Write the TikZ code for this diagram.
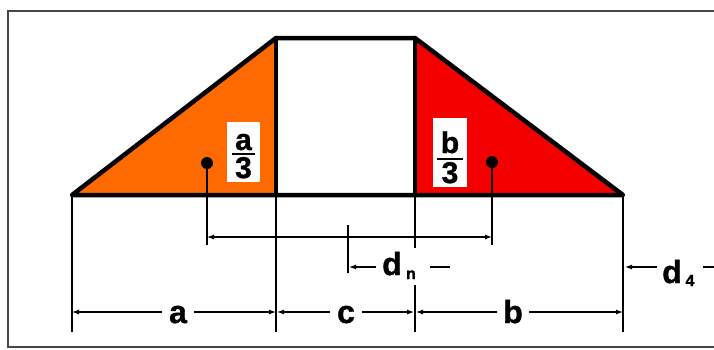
\documentclass[tikz,border=0pt]{standalone}
\usepackage{fontspec}
\setmainfont{Liberation Sans}[BoldFeatures={FakeBold=1.2}]
\usetikzlibrary{arrows.meta}
\definecolor{orng}{RGB}{255,106,0}
\definecolor{rd}{RGB}{245,0,0}
\definecolor{frm}{RGB}{70,70,75}
\begin{document}
\begin{tikzpicture}[x=1pt,y=-1pt,
  outline/.style={line width=4.5pt,line join=round,line cap=round},
  ext/.style={line width=1.5pt},
  dim/.style={line width=1.2pt},
  tip/.style={-{Latex[length=7pt,width=5pt]}},
  lbl/.style={font=\fontsize{32}{32}\selectfont\bfseries,inner sep=0pt},
  flbl/.style={font=\fontsize{30}{30}\selectfont\bfseries,inner sep=0pt,anchor=base},
  sub/.style={font=\fontsize{16}{16}\selectfont\bfseries,inner sep=0pt,anchor=base},
  fbox/.style={fill=white,inner sep=0pt}
]
\useasboundingbox (0,0) rectangle (714,349);
% frame
\draw[line width=1.3pt,frm] (720,11) -- (8,11) -- (8,347) -- (720,347);
% shape corners
\coordinate (A) at (72,195);
\coordinate (B) at (276,38);
\coordinate (Bb) at (276,195);
\coordinate (C) at (415,38);
\coordinate (Cb) at (415,195);
\coordinate (D) at (623,195);
\fill[orng] (A) -- (B) -- (Bb) -- cycle;
\fill[rd] (Cb) -- (C) -- (D) -- cycle;
\draw[outline] (A) -- (B) -- (C) -- (D) -- cycle;
\draw[outline] (B) -- (Bb) (C) -- (Cb);
% extension lines
\coordinate (Ae) at (72,332);
\coordinate (Be) at (276,332);
\coordinate (Ce1) at (415,248);
\coordinate (Ce2) at (415,285);
\coordinate (Ce) at (415,332);
\coordinate (De) at (623,332);
\draw[ext] (A) -- (Ae) (Bb) -- (Be) (Cb) -- (Ce1) (Ce2) -- (Ce) (D) -- (De);
% centroid dots
\node[circle,fill=black,inner sep=0pt,minimum size=12pt] (g1) at (207,163) {};
\node[circle,fill=black,inner sep=0pt,minimum size=12pt] (g2) at (492,162) {};
\coordinate (g1e) at (207,245);
\coordinate (g2e) at (492,245);
\draw[ext] (g1) -- (g1e) (g2) -- (g2e);
\coordinate (h1) at (207,237);
\coordinate (h2) at (492,237);
\draw[dim,tip] (350,237) -- (h1);
\draw[dim,tip] (350,237) -- (h2);
% fraction a/3
\node[fbox,minimum width=33pt,minimum height=60pt] (fa) at (243.5,152) {};
\node[flbl] (fan) at (243.5,150) {a};
\node[flbl] (fad) at (243.5,178) {3};
\draw[line width=2.5pt] (232,154) -- (255,154);
% fraction b/3
\node[fbox,minimum width=34pt,minimum height=69pt] (fb) at (450,152.5) {};
\node[flbl] (fbn) at (450,153) {b};
\node[flbl] (fbd) at (450,183) {3};
\draw[line width=2.5pt] (437,159) -- (463,159);
% d_n
\coordinate (dnt) at (348,225);
\coordinate (dnb) at (348,273);
\draw[ext] (dnt) -- (dnb);
\node[lbl,anchor=base] (dn) at (392,275) {d};
\node[sub] (dns) at (411,279) {n};
\draw[dim,tip] (376,267) -- (349,267);
\draw[dim] (430,267) -- (450,267);
% d_4
\node[lbl,anchor=base] (d4) at (672,283) {d};
\node[sub] (d4s) at (690,286) {4};
\draw[dim,tip] (657,267) -- (625,267);
\draw[dim] (703,267) -- (714,267);
% bottom dimensions
\node[lbl,anchor=base] (la) at (178,323) {a};
\node[lbl,anchor=base] (lc) at (346,323) {c};
\node[lbl,anchor=base] (lb) at (513,323) {b};
\coordinate (ya) at (72,312);
\coordinate (yb) at (276,312);
\coordinate (yc) at (415,312);
\coordinate (yd) at (623,312);
\draw[dim,tip] (162,312) -- (ya);
\draw[dim,tip] (194,312) -- (yb);
\draw[dim,tip] (330,312) -- ([xshift=1pt]yb);
\draw[dim,tip] (362,312) -- ([xshift=-1pt]yc);
\draw[dim,tip] (497,312) -- ([xshift=1pt]yc);
\draw[dim,tip] (529,312) -- (yd);
\end{tikzpicture}
\end{document}
